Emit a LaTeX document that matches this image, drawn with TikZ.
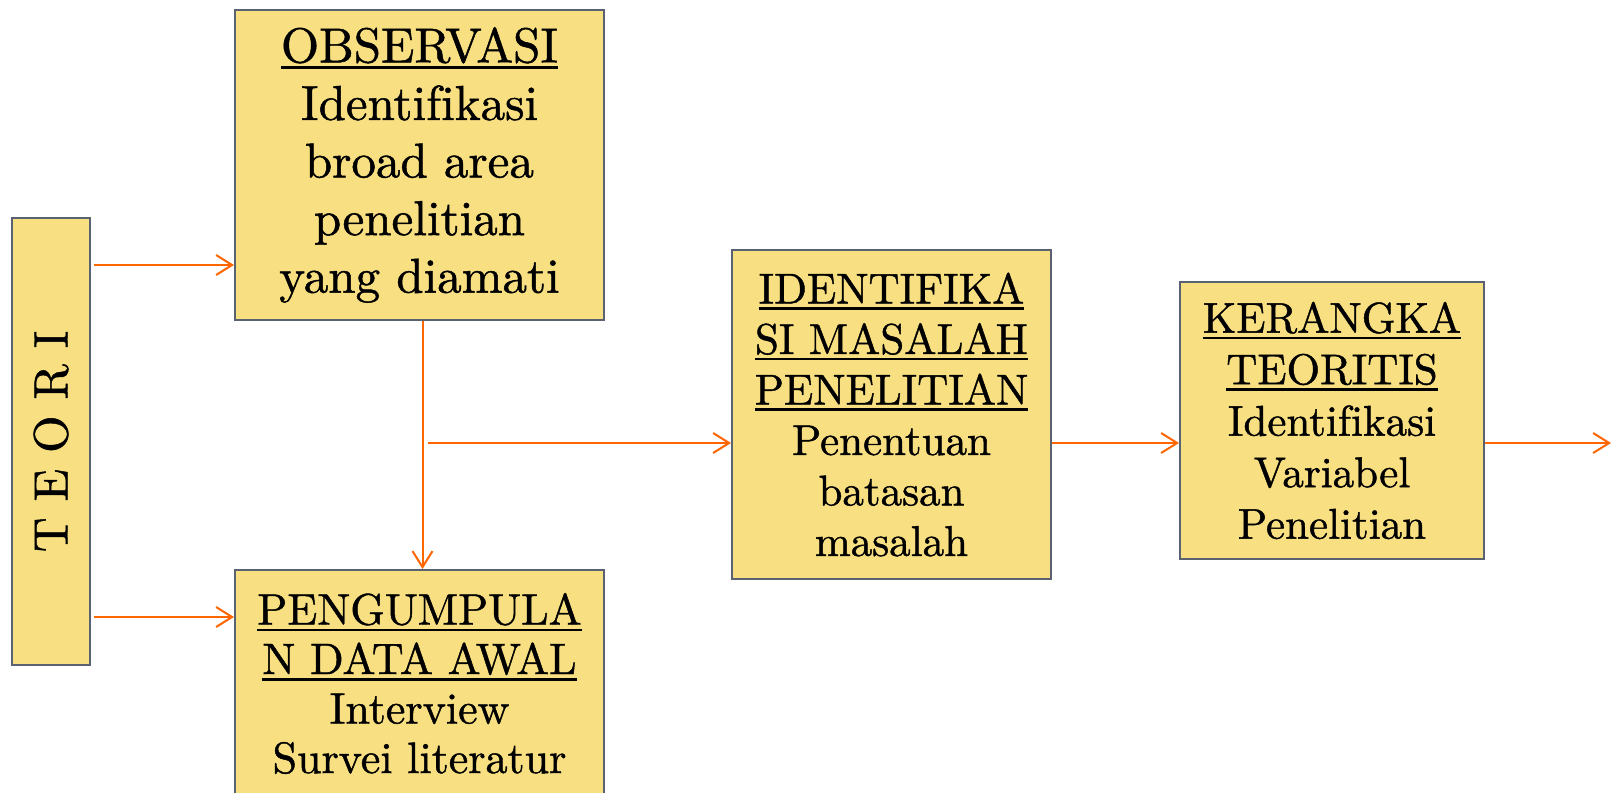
\documentclass[tikz,border=0pt]{standalone}
\usepackage{fontspec}
\setmainfont{lmroman10-regular.otf}[RawFeature={embolden=1}]
\usetikzlibrary{arrows.meta,calc}
\definecolor{boxfill}{RGB}{248,223,130}
\definecolor{boxline}{RGB}{90,97,112}
\definecolor{arrowc}{RGB}{255,102,0}
\newcommand\ulbox[1]{\setbox0\hbox{#1}\rlap{\vrule height -4pt depth 6.5pt width \wd0}\box0}
\begin{document}
\begin{tikzpicture}[x=1pt,y=-1pt,
  box/.style={draw=boxline,fill=boxfill,line width=2pt,inner sep=0pt,anchor=north west,align=center},
  arr/.style={draw=arrowc,line width=2pt,-{Straight Barb[length=16pt,width=20pt,line width=2pt]}}]
\useasboundingbox (0,0) rectangle (1613,792);
\fill[white] (0,0) rectangle (1613,792);

\node[box,minimum width=78pt,minimum height=447pt] (teori) at (11,217) {};
\node[rotate=90,font=\fontsize{48}{55}\selectfont] (teoritext) at (teori.center) {T E O R I};

\node[box,minimum width=369pt,minimum height=310pt,font=\fontsize{49}{57.6}\selectfont] (obs) at (234,9)
  {\ulbox{OBSERVASI}\\Identif\kern0pt ikasi\\broad area\\penelitian\\yang diamati};

\node[box,minimum width=369pt,minimum height=227pt,font=\fontsize{44}{49.5}\selectfont] (peng) at (234,569)
  {\ulbox{PENGUMPULA}\\\ulbox{N DATA AWAL}\\Interview\\Survei literatur};

\node[box,minimum width=319pt,minimum height=329pt,font=\fontsize{43}{50.5}\selectfont] (ident) at (731,249)
  {\ulbox{IDENTIFIKA}\\\ulbox{SI MASALAH}\\\ulbox{PENELITIAN}\\Penentuan\\batasan\\masalah};

\node[box,minimum width=304pt,minimum height=277pt,font=\fontsize{43}{51.5}\selectfont] (ker) at (1179,281)
  {\ulbox{KERANGKA}\\\ulbox{TEORITIS}\\Identif\kern0pt ikasi\\Variabel\\Penelitian};

\coordinate (a1) at ($(teori.north east)+(2.5,48)$);
\coordinate (a2) at ($(teori.north east)+(2.5,400)$);
\coordinate (b) at ($(obs.south)+(8.5,122)$);
\coordinate (e) at ($(b -| ker.east)+(126,0)$);

\draw[arr] (a1) -- (a1 -| obs.west);
\draw[arr] (a2) -- (a2 -| peng.west);
\draw[arr] ([xshift=3pt]obs.south) -- ([xshift=3pt]peng.north);
\draw[arr] (b) -- (b -| ident.west);
\draw[arr] (b -| ident.east) -- (b -| ker.west);
\draw[arr] (b -| ker.east) -- (e);
\end{tikzpicture}
\end{document}
